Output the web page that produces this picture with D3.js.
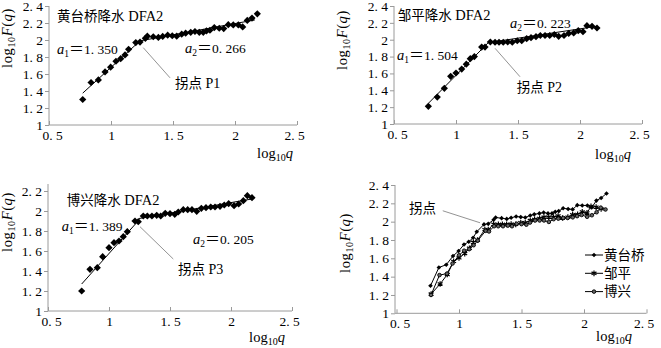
<!DOCTYPE html>
<html><head><meta charset="utf-8">
<script src="https://cdn.jsdelivr.net/npm/d3@7"></script>
<style>
html,body{margin:0;padding:0;background:#fff;}
svg{display:block;font-family:"Liberation Serif","Noto Sans CJK SC",serif;}
</style></head>
<body><svg id="c" width="661" height="348"></svg>
<script>
// ---------- data ----------
const xTicks = [0.5, 1, 1.5, 2, 2.5];
const yTicks24 = [1, 1.2, 1.4, 1.6, 1.8, 2, 2.2, 2.4];
const yTicks22 = [1, 1.2, 1.4, 1.6, 1.8, 2, 2.2];

const seriesNames = ["黄台桥", "邹平", "博兴"];

const htqX = [0.772,0.839,0.898,0.952,0.997,1.04,1.078,1.113,1.142,1.20,1.234,1.277,1.293,1.341,1.382,1.417,1.457,1.494,1.53,1.57,1.602,1.643,1.677,1.712,1.744,1.77,1.798,1.833,1.873,1.909,1.946,1.986,2.027,2.062,2.099,2.137,2.18];
const htqY = [1.30,1.50,1.53,1.625,1.68,1.75,1.78,1.825,1.89,1.97,1.976,2.02,2.045,2.038,2.03,2.042,2.057,2.05,2.045,2.068,2.08,2.09,2.10,2.09,2.09,2.107,2.115,2.146,2.138,2.134,2.18,2.177,2.177,2.154,2.23,2.258,2.308];

const zpX = [0.777,0.849,0.906,0.957,1.0,1.046,1.083,1.115,1.148,1.207,1.234,1.277,1.315,1.347,1.381,1.417,1.454,1.494,1.53,1.57,1.605,1.645,1.68,1.718,1.756,1.793,1.828,1.871,1.909,1.949,1.986,2.024,2.056,2.097,2.137];
const zpY = [1.21,1.32,1.423,1.566,1.605,1.652,1.71,1.775,1.80,1.913,1.913,1.973,1.97,1.97,1.97,1.973,1.97,1.988,1.988,2.012,2.024,2.036,2.05,2.05,2.05,2.062,2.04,2.05,2.075,2.08,2.107,2.095,2.166,2.159,2.139];

const bxX = [0.776,0.844,0.904,0.948,1.0,1.041,1.082,1.117,1.15,1.213,1.24,1.281,1.314,1.352,1.391,1.424,1.461,1.5,1.539,1.568,1.609,1.645,1.68,1.719,1.757,1.795,1.834,1.869,1.91,1.945,1.981,2.025,2.063,2.101,2.134,2.172];
const bxY = [1.20,1.417,1.433,1.543,1.633,1.683,1.70,1.743,1.793,1.90,1.893,1.95,1.95,1.95,1.957,1.95,1.977,1.973,1.967,1.99,2.013,2.013,2.013,1.997,2.027,2.033,2.04,2.04,2.047,2.06,2.073,2.053,2.07,2.103,2.153,2.133];

// fitted segments [x0,y0,x1,y1]
const htqFit = [[0.772,1.375,1.234,1.99],[1.234,1.99,2.16,2.236]];
const zpFit  = [[0.777,1.245,1.26,1.965],[1.26,1.965,2.14,2.16]];
const bxFit  = [[0.776,1.27,1.246,1.91],[1.246,1.925,2.17,2.12]];

// slopes
const slopes = {htq:["1. 350","0. 266"], zp:["1. 504","0. 223"], bx:["1. 389","0. 205"]};

// ---------- drawing ----------
const svg = d3.select("#c");
const AX = "#9a9a9a";
const CJK = '"Noto Sans CJK SC",sans-serif';

function fmt(v){ return Number.isInteger(v) ? String(v) : v.toFixed(1).replace(".", ". "); }

function diamond(r){ return `M0,${-r}L${r},0L0,${r}L${-r},0Z`; }

function panel(o){
  const g = svg.append("g");
  const x = d3.scaleLinear().domain([0.5,2.5]).range(o.xr);
  const y = d3.scaleLinear().domain(o.yd).range(o.yr);
  const ya = g.append("g").attr("transform",`translate(${o.axisX ?? x(0.5)},0)`)
    .call(d3.axisLeft(y).tickValues(o.yt).tickSize(4).tickPadding(2).tickFormat(fmt));
  ya.select(".domain").attr("d", `M0,${y(o.yd[0])}V${y(o.yd[1]) - (o.topExt||0)}`);
  const xa = g.append("g").attr("transform",`translate(0,${y(o.yd[0])})`)
    .call(d3.axisBottom(x).tickValues(xTicks).tickSize(-4).tickPadding(6).tickFormat(fmt));
  xa.select(".domain").attr("d", `M${o.axisX ?? x(0.5)},0H${x(2.5)}`);
  [ya, xa].forEach(a=>{
    a.selectAll(".domain,line").attr("stroke",AX).attr("stroke-width",1);
    a.selectAll("text").attr("fill","#000").style("font-size","13.5px")
      .style("font-family",'"Liberation Serif",serif');
  });
  xa.selectAll("text").attr("dy","0.71em").attr("y",5.5)
    .attr("dx",d => d===0.5 ? 3 : (d===2.5 ? -3 : 0));
  const yl = g.append("text").attr("transform",`translate(${o.ylab[0]},${o.ylab[1]}) rotate(-90)`)
    .attr("text-anchor","middle").style("font-size","14.5px").style("letter-spacing","0.6px");
  yl.append("tspan").text("log");
  yl.append("tspan").text("10").style("font-size","10px").attr("dy","3");
  yl.append("tspan").text("F").style("font-style","italic").attr("dy","-3");
  yl.append("tspan").text("(");
  yl.append("tspan").text("q").style("font-style","italic");
  yl.append("tspan").text(")");
  const xl = g.append("text").attr("x",o.xlab[0]).attr("y",o.xlab[1])
    .attr("text-anchor","middle").style("font-size","14.5px");
  xl.append("tspan").text("log");
  xl.append("tspan").text("10").style("font-size","10px").attr("dy","3");
  xl.append("tspan").text("q").style("font-style","italic").attr("dy","-3");
  return {g,x,y};
}

function singlePanel(o, xs, ys, fits, sl, name, pname, ann){
  const {g,x,y} = panel(o);
  fits.forEach(f=>{
    g.append("line").attr("x1",x(f[0])).attr("y1",y(f[1])).attr("x2",x(f[2])).attr("y2",y(f[3]))
      .attr("stroke","#000").attr("stroke-width",1);
  });
  g.selectAll("path.pt").data(xs.map((v,i)=>[v,ys[i]])).join("path").attr("class","pt")
    .attr("d",diamond(3.6)).attr("transform",d=>`translate(${x(d[0])},${y(d[1])})`).attr("fill","#000");
  const tt = g.append("text").attr("x",x(ann.title[0])).attr("y",y(ann.title[1])).style("font-size","13.5px");
  tt.append("tspan").text(name + "降水").style("font-family",CJK);
  tt.append("tspan").text(" DFA2").style("font-size","14.5px");
  [[ann.a1,"1",sl[0]],[ann.a2,"2",sl[1]]].forEach(([p,s,v])=>{
    const t = g.append("text").attr("x",x(p[0])).attr("y",y(p[1])).style("font-size","13.5px");
    t.append("tspan").text("a").style("font-style","italic").style("font-size","14.5px");
    t.append("tspan").text(s).style("font-size","9.5px").attr("dy","3");
    t.append("tspan").text("＝").style("font-family",CJK).style("font-size","15px").attr("dy","-3");
    t.append("tspan").text(v);
  });
  g.append("line").attr("x1",x(ann.lead[0])).attr("y1",y(ann.lead[1])).attr("x2",x(ann.lead[2])).attr("y2",y(ann.lead[3]))
    .attr("stroke","#777").attr("stroke-width",0.8);
  const pl = g.append("text").attr("x",x(ann.plabel[0])).attr("y",y(ann.plabel[1])).style("font-size","13.5px");
  pl.append("tspan").text("拐点").style("font-family",CJK);
  pl.append("tspan").text(" " + pname).style("font-size","14px");
}

singlePanel({xr:[49,297], yd:[1,2.4], yr:[125,6], yt:yTicks24, ylab:[12,38], xlab:[275,158]},
  htqX, htqY, htqFit, slopes.htq, "黄台桥", "P1",
  {title:[0.565,2.227], a1:[0.565,1.831], a2:[1.597,1.843], lead:[1.26,1.91,1.476,1.555], plabel:[1.516,1.436]});

singlePanel({xr:[394,642], yd:[1,2.4], yr:[124,6], yt:yTicks24, ylab:[347,40], xlab:[613,159]},
  zpX, zpY, zpFit, slopes.zp, "邹平", "P2",
  {title:[0.53,2.231], a1:[0.524,1.765], a2:[1.435,2.141], lead:[1.315,1.898,1.516,1.561], plabel:[1.49,1.374]});

singlePanel({xr:[48,292], yd:[1,2.2], yr:[311,191], yt:yTicks22, ylab:[12,222], topExt:7, xlab:[267,342]},
  bxX, bxY, bxFit, slopes.bx, "博兴", "P3",
  {title:[0.653,2.065], a1:[0.612,1.805], a2:[1.689,1.672], lead:[1.254,1.843,1.527,1.52], plabel:[1.566,1.37]});

// combined panel
(function(){
  const {g,x,y} = panel({xr:[396.5,646.5], yd:[1,2.4], yr:[313.3,185], yt:yTicks24, axisX:395, ylab:[350,243], xlab:[614,341]});
  const line = d3.line().x(d=>x(d[0])).y(d=>y(d[1]));
  const sets = [
    {xs:htqX, ys:htqY, m:"d"},
    {xs:zpX, ys:zpY, m:"a"},
    {xs:bxX, ys:bxY, m:"c"}
  ];
  const ast = d3.symbol(d3.symbolAsterisk).size(22)();
  function marker(sel, m){
    if(m==="d") sel.append("path").attr("d",diamond(2.3)).attr("fill","#000");
    else if(m==="a") sel.append("path").attr("d",ast).attr("stroke","#000").attr("stroke-width",1.2).attr("fill","none");
    else sel.append("circle").attr("r",1.8).attr("fill","#666").attr("stroke","#000").attr("stroke-width",0.9);
  }
  sets.forEach(s=>{
    const pts = s.xs.map((v,i)=>[v,s.ys[i]]);
    g.append("path").attr("d",line(pts)).attr("fill","none").attr("stroke","#000").attr("stroke-width",1);
    pts.forEach(p=>{ marker(g.append("g").attr("transform",`translate(${x(p[0])},${y(p[1])})`), s.m); });
  });
  g.append("line").attr("x1",x(0.87)).attr("y1",y(2.119)).attr("x2",x(1.168)).attr("y2",y(1.988))
    .attr("stroke","#777").attr("stroke-width",0.8);
  g.append("text").attr("x",x(0.816)).attr("y",y(2.099)).attr("text-anchor","end")
    .style("font-size","13.5px").style("font-family",CJK).text("拐点");
  const lg = g.append("g").attr("transform","translate(585,255)");
  seriesNames.forEach((n,i)=>{
    const r = lg.append("g").attr("transform",`translate(0,${i*18.3})`);
    r.append("line").attr("x1",0).attr("x2",18).attr("stroke","#000").attr("stroke-width",1);
    marker(r.append("g").attr("transform","translate(9,0)"), sets[i].m);
    r.append("text").attr("x",19).attr("y",4.8).style("font-size","13.5px").style("font-family",CJK).text(n);
  });
})();
</script>
</body></html>
